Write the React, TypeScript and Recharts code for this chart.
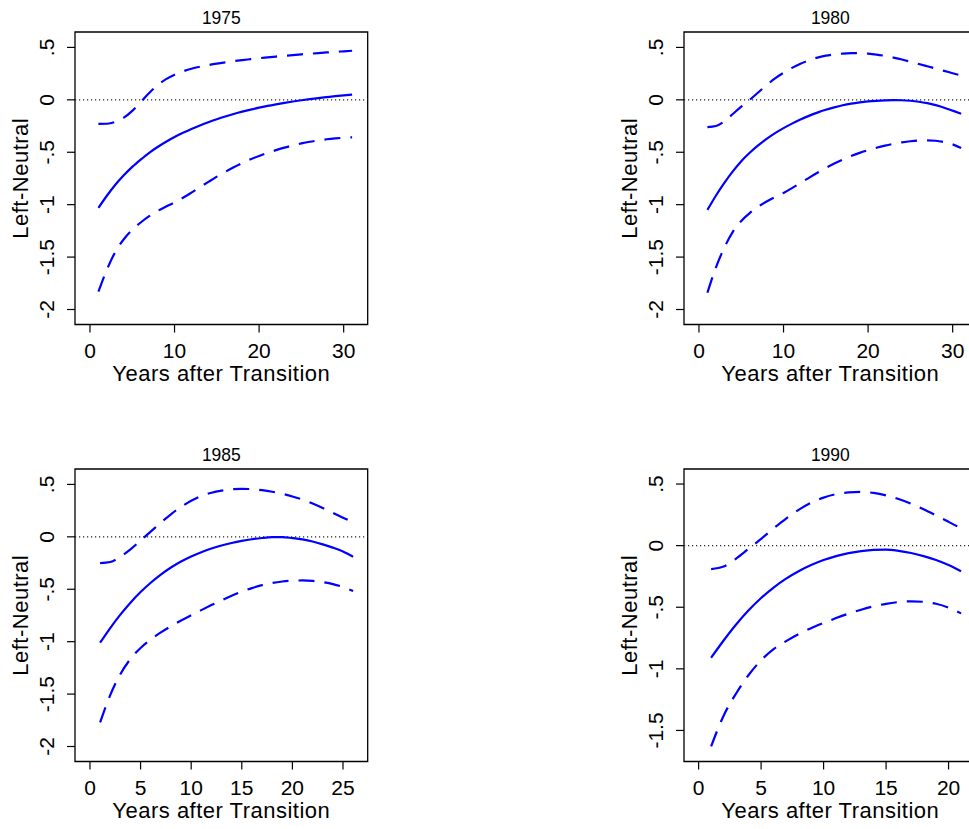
import React from 'react';
import { LineChart, Line, XAxis, YAxis, ReferenceLine, ReferenceArea, Label } from 'recharts';

const FONT = '"Liberation Sans", Arial, Helvetica, sans-serif';
const BLUE = '#0000ff';

// ---- data ----
const years1975 = [1, 2, 3, 4, 5, 6, 7, 8, 9, 10, 11, 12, 13, 14, 15, 16, 17, 18, 19, 20, 21, 22, 23, 24, 25, 26, 27, 28, 29, 30, 31];
const est1975 = [-1.03, -0.915, -0.81, -0.72, -0.64, -0.57, -0.505, -0.45, -0.4, -0.355, -0.315, -0.278, -0.244, -0.213, -0.185, -0.159, -0.135, -0.113, -0.093, -0.075, -0.058, -0.043, -0.029, -0.016, -0.004, 0.007, 0.017, 0.026, 0.035, 0.043, 0.05];
const upper1975 = [-0.23, -0.228, -0.21, -0.17, -0.105, -0.02, 0.065, 0.14, 0.197, 0.24, 0.272, 0.297, 0.316, 0.332, 0.346, 0.358, 0.369, 0.379, 0.388, 0.397, 0.405, 0.413, 0.42, 0.427, 0.434, 0.44, 0.446, 0.452, 0.458, 0.463, 0.468];
const lower1975 = [-1.83, -1.62, -1.45, -1.33, -1.24, -1.17, -1.11, -1.06, -1.018, -0.978, -0.934, -0.885, -0.834, -0.783, -0.733, -0.687, -0.644, -0.604, -0.567, -0.535, -0.506, -0.48, -0.456, -0.435, -0.416, -0.4, -0.387, -0.376, -0.368, -0.362, -0.358];

const years1980 = [1, 2, 3, 4, 5, 6, 7, 8, 9, 10, 11, 12, 13, 14, 15, 16, 17, 18, 19, 20, 21, 22, 23, 24, 25, 26, 27, 28, 29, 30, 31];
const est1980 = [-1.05, -0.915, -0.793, -0.683, -0.585, -0.505, -0.435, -0.373, -0.318, -0.27, -0.227, -0.188, -0.153, -0.122, -0.095, -0.072, -0.052, -0.036, -0.024, -0.015, -0.009, -0.005, -0.003, -0.004, -0.009, -0.018, -0.032, -0.051, -0.075, -0.103, -0.132];
const upper1980 = [-0.26, -0.25, -0.205, -0.135, -0.065, 0.0, 0.07, 0.14, 0.205, 0.258, 0.305, 0.345, 0.377, 0.403, 0.421, 0.433, 0.441, 0.445, 0.445, 0.441, 0.432, 0.419, 0.403, 0.385, 0.364, 0.342, 0.32, 0.298, 0.276, 0.254, 0.232];
const lower1980 = [-1.84, -1.6, -1.41, -1.26, -1.155, -1.08, -1.02, -0.97, -0.928, -0.888, -0.842, -0.793, -0.744, -0.696, -0.65, -0.608, -0.57, -0.536, -0.506, -0.48, -0.457, -0.437, -0.42, -0.406, -0.395, -0.388, -0.386, -0.39, -0.403, -0.425, -0.46];

const years1985 = [1, 2, 3, 4, 5, 6, 7, 8, 9, 10, 11, 12, 13, 14, 15, 16, 17, 18, 19, 20, 21, 22, 23, 24, 25, 26];
const est1985 = [-1.01, -0.87, -0.742, -0.628, -0.527, -0.438, -0.36, -0.293, -0.236, -0.188, -0.147, -0.112, -0.083, -0.059, -0.039, -0.023, -0.011, -0.003, -0.002, -0.012, -0.025, -0.045, -0.072, -0.103, -0.14, -0.19];
const upper1985 = [-0.25, -0.24, -0.19, -0.12, -0.035, 0.05, 0.135, 0.215, 0.285, 0.345, 0.39, 0.42, 0.44, 0.453, 0.458, 0.455, 0.445, 0.43, 0.41, 0.385, 0.355, 0.318, 0.275, 0.23, 0.183, 0.138];
const lower1985 = [-1.77, -1.51, -1.31, -1.165, -1.06, -0.98, -0.912, -0.852, -0.798, -0.748, -0.699, -0.651, -0.605, -0.562, -0.523, -0.489, -0.461, -0.44, -0.426, -0.418, -0.416, -0.42, -0.432, -0.451, -0.479, -0.517];

const years1990 = [1, 2, 3, 4, 5, 6, 7, 8, 9, 10, 11, 12, 13, 14, 15, 16, 17, 18, 19, 20, 21];
const est1990 = [-0.91, -0.77, -0.64, -0.525, -0.425, -0.34, -0.268, -0.208, -0.158, -0.117, -0.085, -0.061, -0.044, -0.034, -0.032, -0.042, -0.06, -0.085, -0.117, -0.158, -0.208];
const upper1990 = [-0.19, -0.17, -0.105, -0.025, 0.055, 0.14, 0.22, 0.29, 0.348, 0.39, 0.418, 0.432, 0.436, 0.428, 0.408, 0.378, 0.34, 0.295, 0.245, 0.193, 0.14];
const lower1990 = [-1.63, -1.38, -1.2, -1.05, -0.93, -0.84, -0.775, -0.718, -0.67, -0.628, -0.588, -0.552, -0.52, -0.493, -0.472, -0.458, -0.452, -0.456, -0.472, -0.503, -0.55];

const xTicks30 = [0, 10, 20, 30];
const xTicks25 = [0, 5, 10, 15, 20, 25];
const xTicks20 = [0, 5, 10, 15, 20];
const yTicksWide = [-2, -1.5, -1, -0.5, 0, 0.5];
const yTicksNarrow = [-1.5, -1, -0.5, 0, 0.5];

const xTitle = 'Years after Transition';
const yTitle = 'Left-Neutral';

const toRows = (years: number[], est: number[], hi: number[], lo: number[]) =>
  years.map((t, i) => ({ t, est: est[i], hi: hi[i], lo: lo[i] }));

const fmtY = (v: number) => {
  if (v === 0) return '0';
  const s = String(Math.abs(v)).replace(/^0/, '');
  return (v < 0 ? '-' : '') + s;
};

const YL = 75; // y axis width
const XH = 70; // x axis height
const MT = 32;
const MR = 10;
const BOX_W = 292.7;
const BOX_H = 292.5;

type PanelProps = {
  title: string;
  rows: any[];
  xDomain: [number, number];
  yDomain: [number, number];
  xTicks: number[];
  yTicks: number[];
  left: number;
  top: number;
};

const XTick = (props: any) => {
  const { x, y, payload } = props;
  return (
    <text x={x} y={y + 25.3} textAnchor="middle" fontSize={21} fontFamily={FONT} fill="#000">
      {payload.value}
    </text>
  );
};

const YTick = (props: any) => {
  const { x, y, payload } = props;
  const bx = x - 13;
  return (
    <text
      x={bx}
      y={y}
      transform={`rotate(-90 ${bx} ${y})`}
      textAnchor="middle"
      fontSize={21}
      fontFamily={FONT}
      fill="#000"
    >
      {fmtY(payload.value)}
    </text>
  );
};

function Panel({ title, rows, xDomain, yDomain, xTicks, yTicks, left, top }: PanelProps) {
  const W = YL + BOX_W + MR;
  const H = MT + BOX_H + XH;
  return (
    <div style={{ position: 'absolute', left, top, width: W, height: H }}>
      <LineChart width={W} height={H} data={rows} margin={{ top: MT, right: MR, bottom: 0, left: 0 }}>
        <XAxis
          dataKey="t"
          type="number"
          domain={xDomain}
          ticks={xTicks}
          allowDataOverflow
          height={XH}
          tickSize={8}
          tickMargin={0}
          axisLine={false}
          tickLine={{ stroke: '#000', strokeWidth: 1.2 }}
          tick={XTick}
          interval={0}
        >
          <Label
            content={(p: any) => {
              const vb = p.viewBox || {};
              return (
                <text
                  x={vb.x + vb.width / 2}
                  y={vb.y + 57}
                  textAnchor="middle"
                  fontSize={22}
                  letterSpacing={0.5}
                  fontFamily={FONT}
                  fill="#000"
                >
                  {xTitle}
                </text>
              );
            }}
          />
        </XAxis>
        <YAxis
          type="number"
          domain={yDomain}
          ticks={yTicks}
          allowDataOverflow
          width={YL}
          tickSize={8}
          tickMargin={0}
          axisLine={false}
          tickLine={{ stroke: '#000', strokeWidth: 1.2 }}
          tick={YTick}
          interval={0}
        >
          <Label
            content={(p: any) => {
              const vb = p.viewBox || {};
              const bx = vb.x + vb.width - 47;
              const cy = vb.y + vb.height / 2;
              return (
                <text
                  x={bx}
                  y={cy}
                  transform={`rotate(-90 ${bx} ${cy})`}
                  textAnchor="middle"
                  fontSize={22}
                  letterSpacing={0.5}
                  fontFamily={FONT}
                  fill="#000"
                >
                  {yTitle}
                </text>
              );
            }}
          />
        </YAxis>
        <ReferenceLine y={0} stroke="#222" strokeWidth={1.2} strokeDasharray="1.2 2.8" ifOverflow="visible" />
        <Line dataKey="hi" type="monotone" stroke={BLUE} strokeWidth={2.2} strokeDasharray="16 10" dot={false} isAnimationActive={false} />
        <Line dataKey="lo" type="monotone" stroke={BLUE} strokeWidth={2.2} strokeDasharray="16 10" dot={false} isAnimationActive={false} />
        <Line dataKey="est" type="monotone" stroke={BLUE} strokeWidth={2.2} dot={false} isAnimationActive={false} />
        <ReferenceArea
          x1={xDomain[0]}
          x2={xDomain[1]}
          y1={yDomain[0]}
          y2={yDomain[1]}
          fill="none"
          fillOpacity={0}
          stroke="#000"
          strokeWidth={1.3}
          ifOverflow="visible"
        >
          <Label
            content={(p: any) => {
              const vb = p.viewBox || {};
              return (
                <text
                  x={vb.x + vb.width / 2}
                  y={vb.y - 8}
                  textAnchor="middle"
                  fontSize={17.5}
                  fontFamily={FONT}
                  fill="#000"
                >
                  {title}
                </text>
              );
            }}
          />
        </ReferenceArea>
      </LineChart>
    </div>
  );
}

export default function App() {
  return (
    <div
      style={{
        position: 'absolute',
        left: 0,
        top: 0,
        width: 969,
        height: 829,
        overflow: 'hidden',
        background: '#fff',
      }}
    >
      <Panel
        title="1975"
        rows={toRows(years1975, est1975, upper1975, lower1975)}
        xDomain={[-1.77, 32.84]}
        yDomain={[-2.143, 0.647]}
        xTicks={xTicks30}
        yTicks={yTicksWide}
        left={0.3}
        top={0.3}
      />
      <Panel
        title="1980"
        rows={toRows(years1980, est1980, upper1980, lower1980)}
        xDomain={[-1.77, 32.84]}
        yDomain={[-2.143, 0.647]}
        xTicks={xTicks30}
        yTicks={yTicksWide}
        left={608.7}
        top={0.3}
      />
      <Panel
        title="1985"
        rows={toRows(years1985, est1985, upper1985, lower1985)}
        xDomain={[-1.48, 27.44]}
        yDomain={[-2.143, 0.647]}
        xTicks={xTicks25}
        yTicks={yTicksWide}
        left={0.3}
        top={437.3}
      />
      <Panel
        title="1990"
        rows={toRows(years1990, est1990, upper1990, lower1990)}
        xDomain={[-1.17, 22.25]}
        yDomain={[-1.752, 0.622]}
        xTicks={xTicks20}
        yTicks={yTicksNarrow}
        left={608.7}
        top={437.3}
      />
    </div>
  );
}
